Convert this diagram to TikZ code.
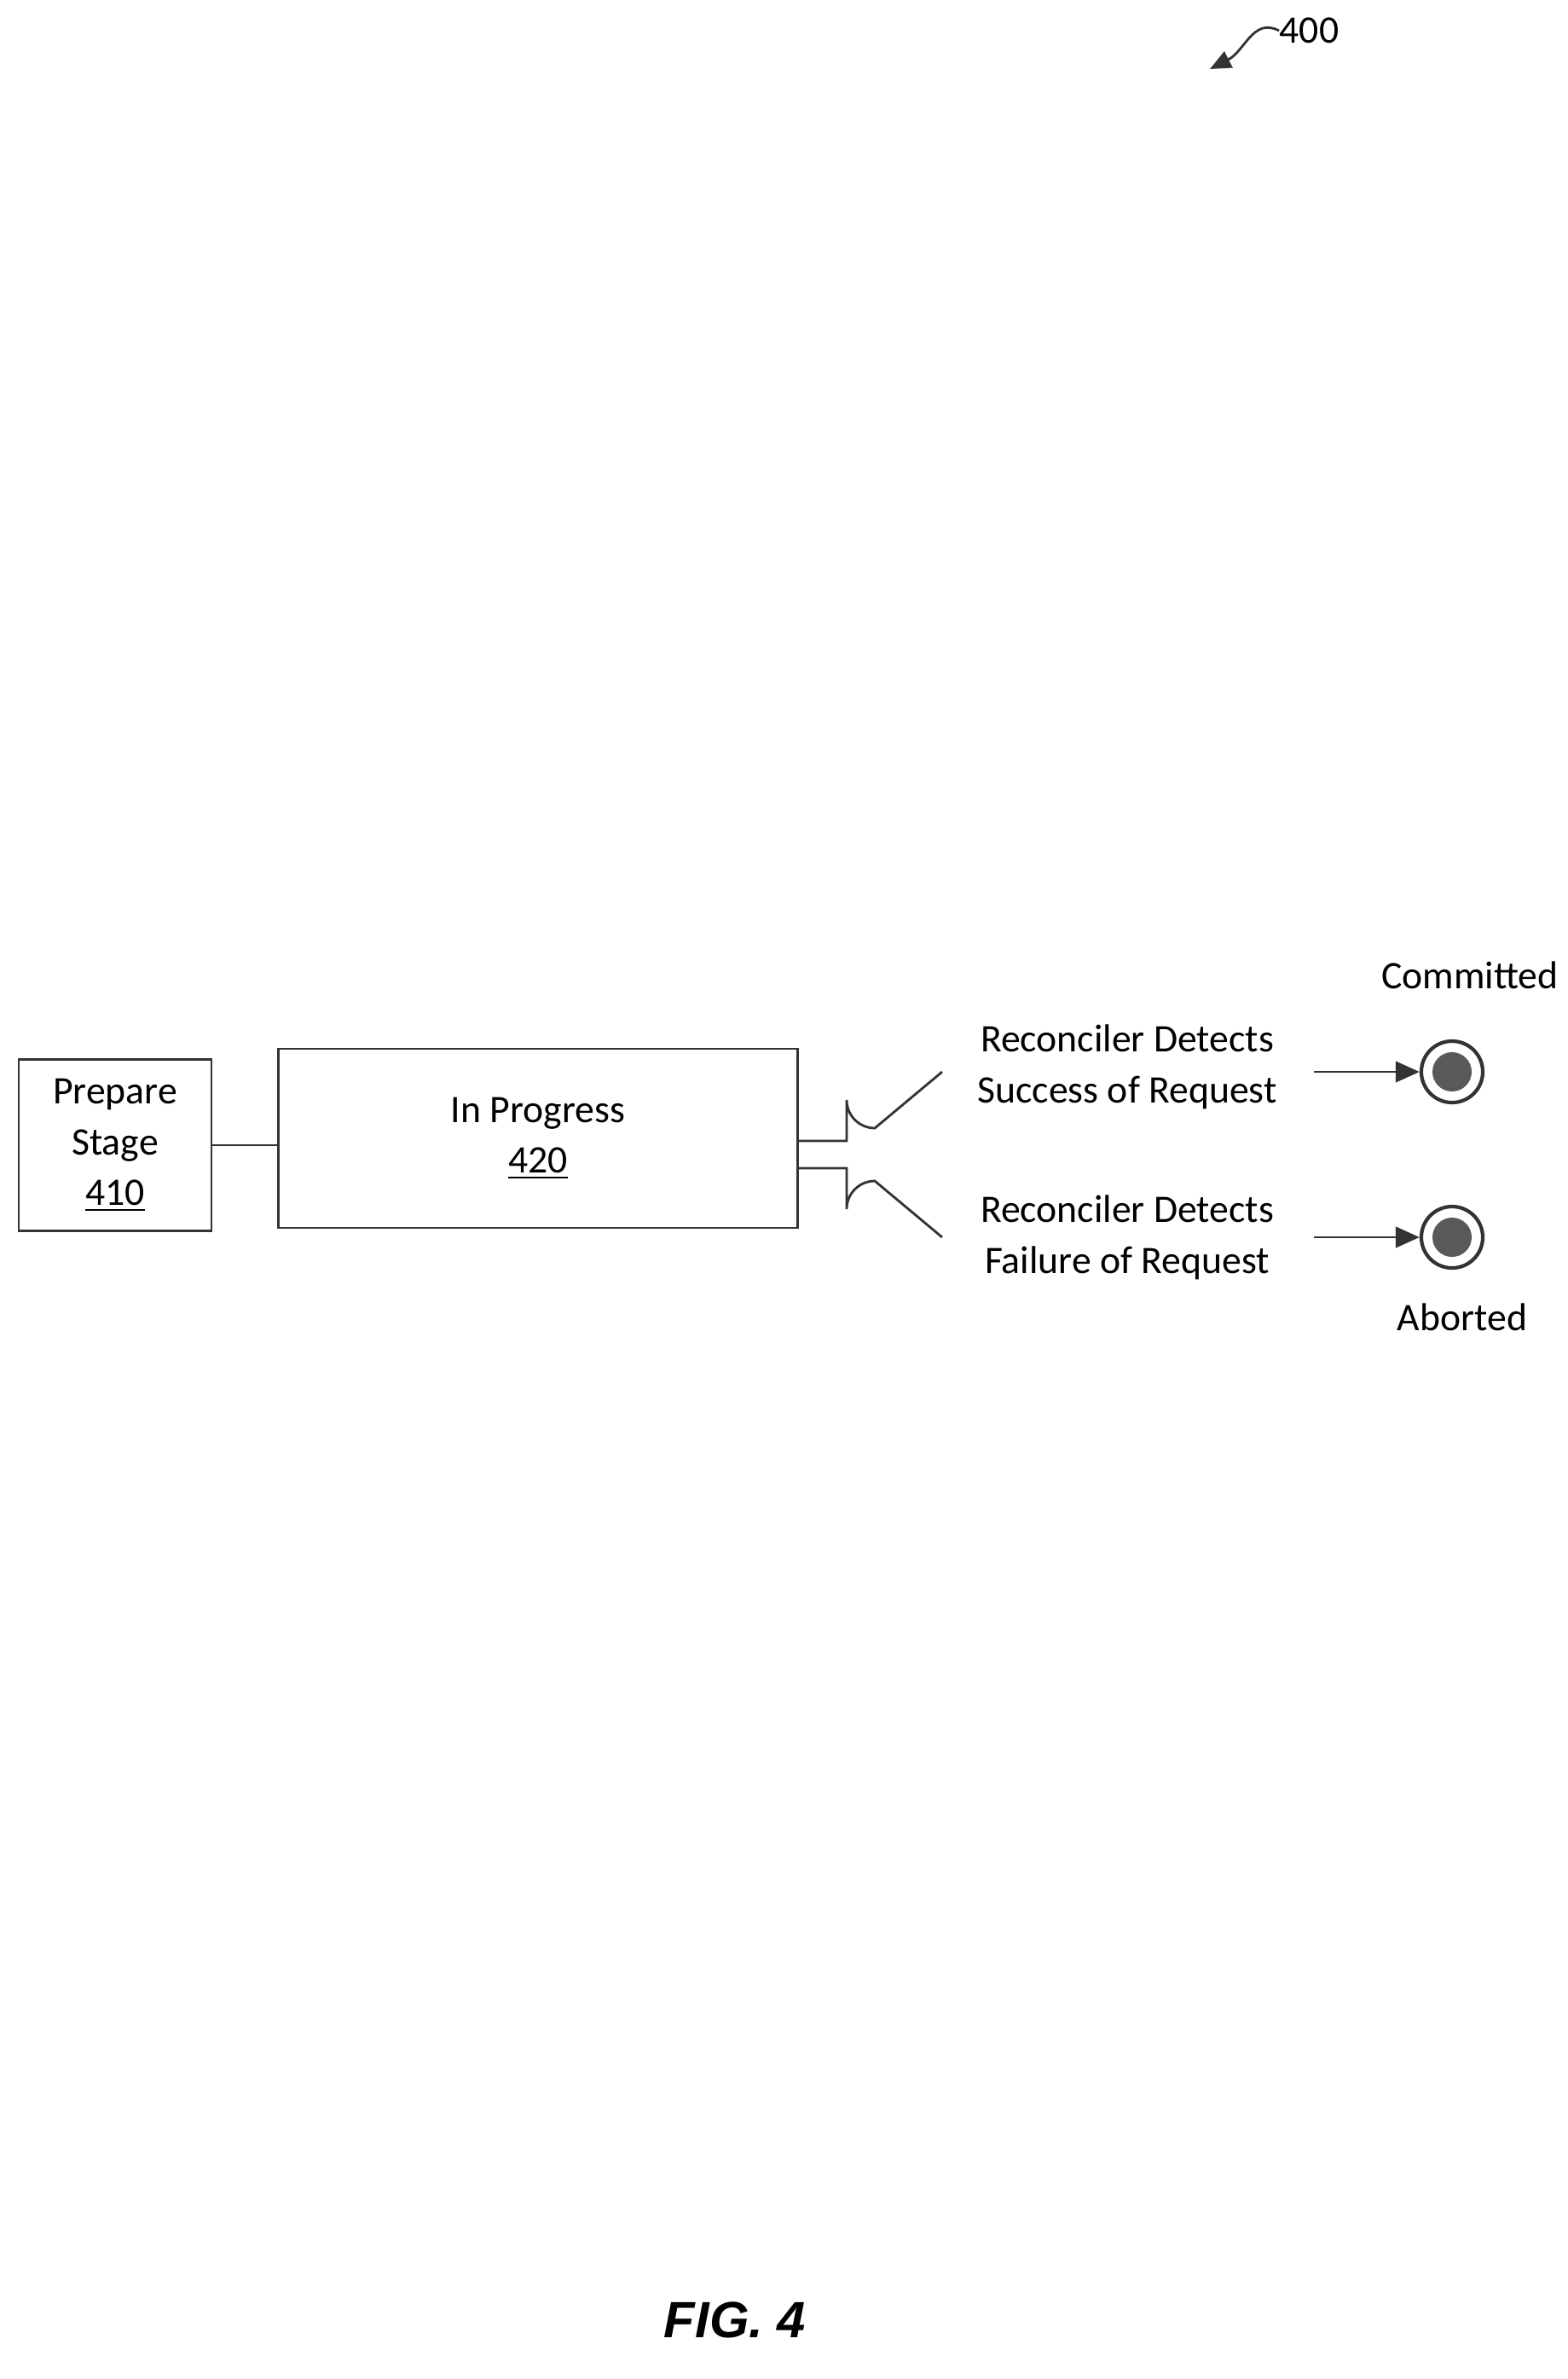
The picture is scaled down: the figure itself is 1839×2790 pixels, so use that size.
\documentclass[tikz,border=0pt]{standalone}
\usepackage{fontspec}
\setmainfont{Carlito}
\newfontfamily\figfont{Liberation Sans}
\usetikzlibrary{positioning,arrows.meta}

\begin{document}
\begin{tikzpicture}[x=0.01cm, y=-0.01cm]
\tikzset{
    stageStyle/.style={rectangle, draw=black!80, thick, align=center, inner sep=0pt, font=\fontsize{13}{17}\selectfont},
    labelStyle/.style={align=center, inner sep=0pt, font=\fontsize{13}{17}\selectfont},
    linkLine/.style={thick, black!80},
    endArrow/.style={-{Triangle[length=8pt,width=7pt]}, thick, black!80},
    finalOuter/.style={circle, draw=black!80, very thick, minimum size=0.72cm, inner sep=0pt},
    finalInner/.style={circle, fill=black!65, minimum size=0.46cm, inner sep=0pt}
}
\useasboundingbox (0,0) rectangle (1839,2790);

% reference number
\node[labelStyle, anchor=west] (ref) at (1500,36) {400};
\draw[endArrow, -{Triangle[length=7pt,width=6pt]}] (ref.west) .. controls (1470,20) and (1460,60) .. (1419,81);

% stages
\node[stageStyle, minimum width=2.26cm, minimum height=2.01cm] (prepare) at (135,1343) {Prepare\\Stage\\\underline{410}};
\node[stageStyle, minimum width=6.09cm, minimum height=2.10cm] (progress) at (631,1335) {In Progress\\\underline{420}};
\draw[linkLine] (prepare.east) -- (prepare.east -| progress.west);

% outcomes
\node[labelStyle] (success) at (1322,1251) {Reconciler Detects\\Success of Request};
\node[labelStyle] (failure) at (1322,1451) {Reconciler Detects\\Failure of Request};
\coordinate (upStub) at (993,1338);
\coordinate (downStub) at (993,1370);
\draw[linkLine] (progress.east |- upStub) -- (upStub) -- (993,1290) arc[start angle=180, end angle=90, radius=33] -- (1105,1257);
\draw[linkLine] (progress.east |- downStub) -- (downStub) -- (993,1418) arc[start angle=180, end angle=270, radius=33] -- (1105,1451);

\node[finalOuter] (committed) at (1703,1257) {};
\node[finalInner] at (committed) {};
\node[finalOuter] (aborted) at (1703,1451) {};
\node[finalInner] at (aborted) {};
\draw[endArrow] (1541,1257) -- (committed.west);
\draw[endArrow] (1541,1451) -- (aborted.west);
\node[labelStyle] (committedText) at (1724,1144) {Committed};
\node[labelStyle] (abortedText) at (1715,1545) {Aborted};

\node[font=\figfont\bfseries\itshape\fontsize{17}{20}\selectfont] (fig) at (862,2721) {FIG. 4};
\end{tikzpicture}
\end{document}
